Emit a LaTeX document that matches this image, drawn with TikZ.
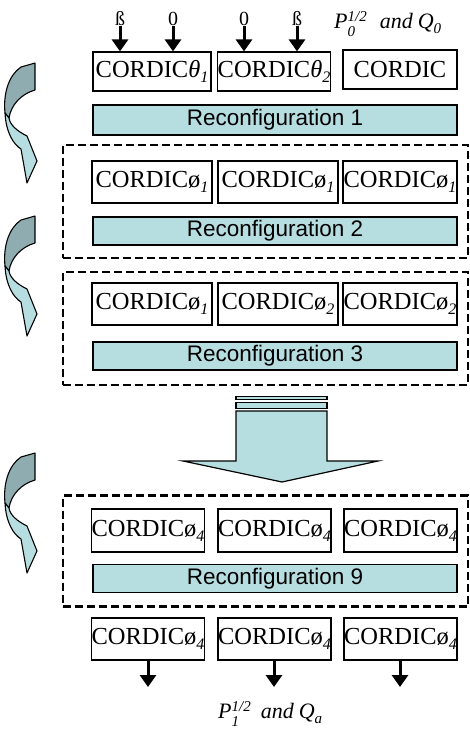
\documentclass[tikz,border=0pt]{standalone}
\usepackage{fontspec}
\setmainfont{Liberation Serif}
\newfontfamily\arialfont{Liberation Sans}
\usetikzlibrary{arrows.meta}
\definecolor{recfill}{RGB}{182,221,224}
\definecolor{darkarr}{RGB}{143,172,176}
\newcommand\cordicx[2]{CORDIC#1\raisebox{-5pt}{\fontsize{16}{16}\selectfont\itshape #2}}
\newcommand\supsubx[2]{\makebox[0pt][l]{\raisebox{-8pt}{\fontsize{15}{15}\selectfont #2}}\raisebox{7pt}{\fontsize{15}{15}\selectfont #1}}
\tikzset{
  cbox/.style={draw, line width=1.2pt, inner sep=0pt, font=\fontsize{24.5}{28}\selectfont},
  recbox/.style={draw, line width=1.2pt, fill=recfill, inner sep=0pt, minimum width=364pt, minimum height=28pt, font=\arialfont\fontsize{22.5}{25}\selectfont},
  dashbox/.style={draw, line width=2.8pt, dash pattern=on 8pt off 4pt},
  inlbl/.style={inner sep=0pt, font=\fontsize{20}{21}\selectfont},
  fatarrow/.style={line width=3pt, -{Triangle[width=16pt,length=12pt]}},
  arrfill/.style={fill=recfill, draw, line width=1.2pt},
  outlbl/.style={inner sep=0pt, anchor=base west, font=\fontsize{22}{24}\selectfont\itshape},
  curvarrow/.pic={
    \draw[fill=darkarr, line width=1.1pt, line join=round]
      (21,4) -- (35,0) -- (35,27) .. controls (21,31) and (11,42) .. (9,55)
      -- (5,50) .. controls (3,30) and (9,12) .. (21,4) -- cycle;
    \draw[fill=recfill, line width=1.1pt, line join=round]
      (5,50) .. controls (6,69) and (13,81) .. (21,86) -- (27,120) -- (37,98)
      -- (27,73) .. controls (17,68) and (10,62) .. (9,55) -- cycle;
  }
}
\begin{document}
\begin{tikzpicture}[x=1pt,y=-1pt]
\useasboundingbox (0,0) rectangle (470,731);
% curved arrows
\pic at (0,63) {curvarrow};
\pic at (0,216) {curvarrow};
\pic at (0,453) {curvarrow};
% dashed groups
\node[dashbox, minimum width=405pt, minimum height=113pt, inner sep=0pt] (g1) at (265.5,201.5) {};
\node[dashbox, minimum width=405pt, minimum height=113pt, inner sep=0pt] (g2) at (265.5,328.5) {};
\node[dashbox, minimum width=405pt, minimum height=111pt, inner sep=0pt] (g3) at (265.5,551) {};
% row 1
\node[cbox, minimum width=118pt, minimum height=39pt] (r1a) at (152,71.5) {\cordicx{\itshape θ}{1}};
\node[cbox, minimum width=112pt, minimum height=39pt] (r1b) at (274,71.5) {\cordicx{\itshape θ}{2}};
\node[cbox, minimum width=114pt, minimum height=39pt] (r1c) at (400,69.5) {CORDIC};
\node[recbox, minimum height=30pt] (rec1) at (275,120) {Reconfiguration 1};
% row 2
\node[cbox, minimum width=120pt, minimum height=42pt] (r2a) at (152,182) {\cordicx{ø}{1}};
\node[cbox, minimum width=120pt, minimum height=42pt] (r2b) at (278,182) {\cordicx{ø}{1}};
\node[cbox, minimum width=114pt, minimum height=42pt] (r2c) at (400,182) {\cordicx{ø}{1}};
\node[recbox] (rec2) at (275,231) {Reconfiguration 2};
% row 3
\node[cbox, minimum width=120pt, minimum height=42pt] (r3a) at (152,304) {\cordicx{ø}{1}};
\node[cbox, minimum width=120pt, minimum height=42pt] (r3b) at (278,304) {\cordicx{ø}{2}};
\node[cbox, minimum width=114pt, minimum height=42pt] (r3c) at (400,304) {\cordicx{ø}{2}};
\node[recbox] (rec3) at (275,356) {Reconfiguration 3};
% big arrow
\draw[arrfill] (236,396.5) rectangle (327,399.5);
\draw[arrfill] (236,402.5) rectangle (327,408.5);
\draw[arrfill, line join=miter] (236,411) -- (327,411) -- (327,461) -- (378,461) -- (282,482) -- (183,461) -- (236,461) -- cycle;
% row 4
\node[cbox, minimum width=112pt, minimum height=43pt] (r4a) at (148,530.5) {\cordicx{ø}{4}};
\node[cbox, minimum width=113pt, minimum height=43pt] (r4b) at (274.5,530.5) {\cordicx{ø}{4}};
\node[cbox, minimum width=113pt, minimum height=43pt] (r4c) at (400.5,530.5) {\cordicx{ø}{4}};
\node[recbox] (rec9) at (275,578.5) {Reconfiguration 9};
% row 5
\node[cbox, minimum width=112pt, minimum height=42pt] (r5a) at (148,639) {\cordicx{ø}{4}};
\node[cbox, minimum width=113pt, minimum height=42pt] (r5b) at (274.5,639) {\cordicx{ø}{4}};
\node[cbox, minimum width=113pt, minimum height=42pt] (r5c) at (400.5,639) {\cordicx{ø}{4}};
% top inputs
\node[inlbl] (in1) at (120,19) {ß};
\node[inlbl] (in2) at (173,19) {0};
\node[inlbl] (in3) at (244,19) {0};
\node[inlbl] (in4) at (297,19) {ß};
\draw[fatarrow] (in1.south) -- (in1.south |- r1a.north);
\draw[fatarrow] (in2.south) -- (in2.south |- r1a.north);
\draw[fatarrow] (in3.south) -- (in3.south |- r1b.north);
\draw[fatarrow] (in4.south) -- (in4.south |- r1b.north);
\node[outlbl] (lbltop) at (334,28)
  {P\supsubx{1/2}{0}\hspace{13pt}and\hspace{5pt}Q\raisebox{-5pt}{\fontsize{15}{15}\selectfont 0}};
% bottom outputs
\coordinate (o1) at (148,687);
\coordinate (o2) at (274,687);
\coordinate (o3) at (400,687);
\draw[fatarrow] (r5a.south -| o1) -- (o1);
\draw[fatarrow] (r5b.south -| o2) -- (o2);
\draw[fatarrow] (r5c.south -| o3) -- (o3);
\node[outlbl] (lblbot) at (218,718)
  {P\supsubx{1/2}{1}\hspace{10pt}and\hspace{5pt}Q\raisebox{-5pt}{\fontsize{15}{15}\selectfont a}};
\end{tikzpicture}
\end{document}
